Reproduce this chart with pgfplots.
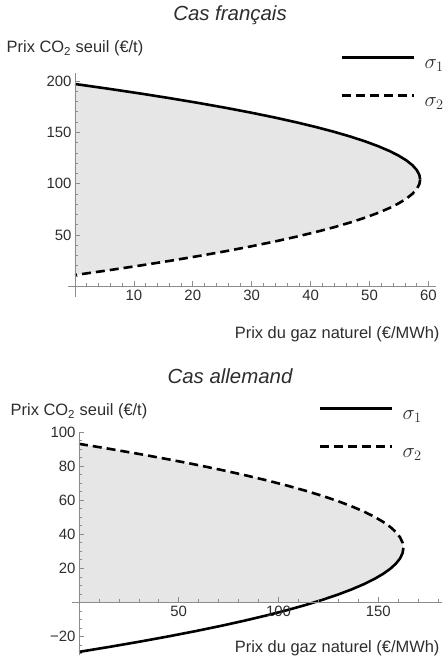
\documentclass[border=0pt]{standalone}
\usepackage{fontspec}
\setmainfont{Liberation Sans}
\usepackage{pgfplots}
\pgfplotsset{compat=1.18}
\definecolor{fillg}{RGB}{230,230,230}
\definecolor{axg}{RGB}{140,140,140}
\definecolor{txt}{RGB}{45,45,45}
\pgfplotsset{mstyle/.style={
  scale only axis, axis lines=middle, axis line style={-,axg,line width=0.8bp},
  axis on top, tick align=inside, major tick length=5bp, minor tick length=3bp,
  tick style={axg,line width=0.6bp},
  tick label style={font=\fontsize{15}{15}\selectfont, text=txt},
  /pgf/number format/assume math mode=true,
  label style={font=\fontsize{16.5}{16.5}\selectfont, text=txt},
  title style={font=\fontsize{20.5}{20.5}\selectfont\itshape, text=txt},
  legend style={draw=none, fill=none, inner sep=0pt, font=\fontsize{22}{22}\selectfont,
    nodes={inner sep=0pt, text height=14bp, text depth=5bp, text=txt}, row sep=19bp,
    /tikz/every odd column/.append style={column sep=9bp}},
  legend cell align=left,
  legend image code/.code={\draw[#1, line width=3.4bp] (0bp,6bp) -- (72bp,6bp);},
  clip=false,
}}
\begin{document}
\begin{tikzpicture}
\path[use as bounding box] (0,0) rectangle (445bp,665bp);
% ---------------- Top: Cas francais
\begin{axis}[mstyle, at={(67.9bp,368.4bp)}, anchor=south west,
  width=367.6bp, height=223.9bp,
  xmin=-1.2, xmax=61.2, ymin=-10, ymax=208,
  xtick={10,20,30,40,50,60}, minor xtick={2,4,6,8,12,14,16,18,22,24,26,28,32,34,36,38,42,44,46,48,52,54,56,58},
  ytick={50,100,150,200}, minor ytick={10,20,30,40,60,70,80,90,110,120,130,140,160,170,180,190},
  title={Cas français}, title style={at={(axis description cs:0.441,1.2264)}, anchor=base, yshift=-4bp},
  xlabel={Prix du gaz naturel (€/MWh)}, xlabel style={at={(axis description cs:1.0204,-0.189)}, anchor=base east},
  ylabel={Prix CO\textsubscript{2} seuil (€/t)}, ylabel style={at={(axis description cs:0.0193,1)}, anchor=base, yshift=19.7bp},
  legend style={at={(axis description cs:0.740,1.1237)}, anchor=north west, yshift=-9bp},
]
\addplot[draw=none, fill=fillg, forget plot] coordinates {
(0,197) (5.71,192.35) (11.13,187.7) (16.26,183.05) (21.10,178.4) (25.64,173.75) (29.89,169.1) (33.84,164.45) (37.50,159.8) (40.87,155.15) (43.95,150.5) (46.73,145.85) (49.22,141.2) (51.42,136.55) (53.33,131.9) (54.94,127.25) (56.26,122.6) (57.28,117.95) (58.01,113.3) (58.45,108.65) (58.6,104)
(58.45,99.35) (58.01,94.7) (57.28,90.05) (56.26,85.4) (54.94,80.75) (53.33,76.1) (51.42,71.45) (49.22,66.8) (46.73,62.15) (43.95,57.5) (40.87,52.85) (37.50,48.2) (33.84,43.55) (29.89,38.9) (25.64,34.25) (21.10,29.6) (16.26,24.95) (11.13,20.3) (5.71,15.65) (0,11)
} -- cycle;
\addplot[black, line width=2.6bp, line join=round] coordinates {
(0,197) (5.71,192.35) (11.13,187.7) (16.26,183.05) (21.10,178.4) (25.64,173.75) (29.89,169.1) (33.84,164.45) (37.50,159.8) (40.87,155.15) (43.95,150.5) (46.73,145.85) (49.22,141.2) (51.42,136.55) (53.33,131.9) (54.94,127.25) (56.26,122.6) (57.28,117.95) (58.01,113.3) (58.45,108.65) (58.6,104)
};
\addlegendentry{$\sigma_1$}
\addplot[black, line width=2.6bp, dash pattern=on 9bp off 5bp] coordinates {
(58.6,104) (58.45,99.35) (58.01,94.7) (57.28,90.05) (56.26,85.4) (54.94,80.75) (53.33,76.1) (51.42,71.45) (49.22,66.8) (46.73,62.15) (43.95,57.5) (40.87,52.85) (37.50,48.2) (33.84,43.55) (29.89,38.9) (25.64,34.25) (21.10,29.6) (16.26,24.95) (11.13,20.3) (5.71,15.65) (0,11)
};
\addlegendentry{$\sigma_2$}
\end{axis}
% ---------------- Bottom: Cas allemand
\begin{axis}[mstyle, at={(71.6bp,9.7bp)}, anchor=south west,
  width=370.1bp, height=223.4bp,
  xmin=-3.7, xmax=181.8, ymin=-31, ymax=100,
  xtick={50,100,150}, minor xtick={10,20,30,40,60,70,80,90,110,120,130,140,160,170,180},
  ytick={-20,20,40,60,80,100}, yticklabels={−20,20,40,60,80,100},
  minor ytick={-30,-25,-15,-10,-5,5,10,15,25,30,35,45,50,55,65,70,75,85,90,95},
  title={Cas allemand}, title style={at={(axis description cs:0.428,1.2144)}, anchor=base, yshift=-5bp},
  xlabel={Prix du gaz naturel (€/MWh)}, xlabel style={at={(axis description cs:1.0035,0.0116)}, anchor=base east},
  ylabel={Prix CO\textsubscript{2} seuil (€/t)}, ylabel style={at={(axis description cs:0.02,1)}, anchor=base, yshift=16bp},
  legend style={at={(axis description cs:0.6658,1.1517)}, anchor=north west, yshift=-7bp},
]
\addplot[draw=none, fill=fillg, forget plot] coordinates {
(0,93) (15.85,89.95) (30.89,86.9) (45.12,83.85) (58.54,80.8) (71.14,77.75) (82.93,74.7) (93.90,71.65) (104.06,68.6) (113.41,65.55) (121.95,62.5) (129.67,59.45) (136.58,56.4) (142.68,53.35) (147.97,50.3) (152.44,47.25) (156.10,44.2) (158.94,41.15) (160.97,38.1) (162.19,35.05) (162.6,32)
(162.19,28.95) (160.97,25.9) (158.94,22.85) (156.10,19.8) (152.44,16.75) (147.97,13.7) (142.68,10.65) (136.58,7.6) (129.67,4.55) (121.95,1.5) (117.85,0) (0,0)
} -- cycle;
\addplot[black, line width=2.6bp, line join=round] coordinates {
(162.6,32) (162.19,28.95) (160.97,25.9) (158.94,22.85) (156.10,19.8) (152.44,16.75) (147.97,13.7) (142.68,10.65) (136.58,7.6) (129.67,4.55) (121.95,1.5) (113.41,-1.55) (104.06,-4.6) (93.90,-7.65) (82.93,-10.7) (71.14,-13.75) (58.54,-16.8) (45.12,-19.85) (30.89,-22.9) (15.85,-25.95) (0,-29)
};
\addlegendentry{$\sigma_1$}
\addplot[black, line width=2.6bp, dash pattern=on 9bp off 5bp] coordinates {
(0,93) (15.85,89.95) (30.89,86.9) (45.12,83.85) (58.54,80.8) (71.14,77.75) (82.93,74.7) (93.90,71.65) (104.06,68.6) (113.41,65.55) (121.95,62.5) (129.67,59.45) (136.58,56.4) (142.68,53.35) (147.97,50.3) (152.44,47.25) (156.10,44.2) (158.94,41.15) (160.97,38.1) (162.19,35.05) (162.6,32)
};
\addlegendentry{$\sigma_2$}
\end{axis}
\end{tikzpicture}
\end{document}
